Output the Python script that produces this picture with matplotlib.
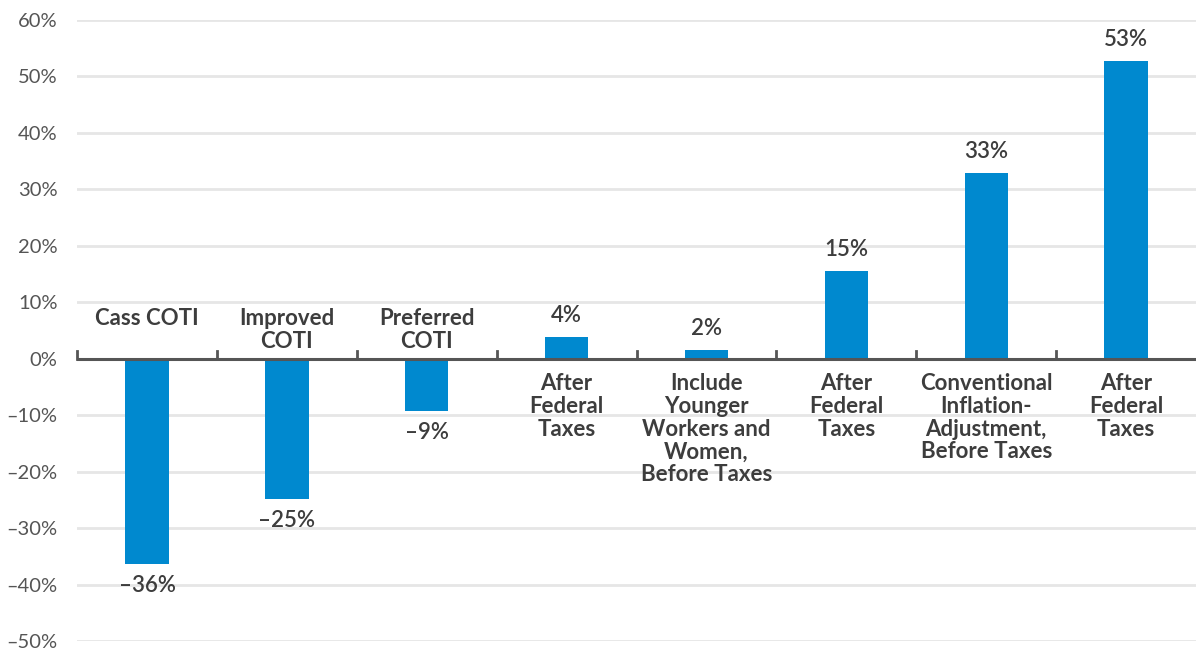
import matplotlib
matplotlib.use("Agg")
import matplotlib.pyplot as plt
import numpy as np

# categories (x axis), bar values in percent
categories = ["Cass COTI", "Improved\nCOTI", "Preferred\nCOTI", "After\nFederal\nTaxes",
              "Include\nYounger\nWorkers and\nWomen,\nBefore Taxes", "After\nFederal\nTaxes",
              "Conventional\nInflation-\nAdjustment,\nBefore Taxes", "After\nFederal\nTaxes"]
values = [-36.3, -24.9, -9.2, 3.8, 1.5, 15.5, 32.8, 52.7]
value_labels = ["\u201336%", "\u201325%", "\u20139%", "4%", "2%", "15%", "33%", "53%"]
yticks = [-50, -40, -30, -20, -10, 0, 10, 20, 30, 40, 50, 60]

bar_color = "#0089CF"
text_dark = "#3d3d3d"
tick_gray = "#555555"

plt.rcParams['font.family'] = ['Lato', 'DejaVu Sans']

fig = plt.figure(figsize=(11.96, 6.51), dpi=100)
ax = fig.add_axes([0.0644, 0.0154, 0.9356, 0.954])

x = np.arange(len(values))
ax.bar(x, values, width=0.31, color=bar_color, zorder=3)

ax.set_xlim(-0.5, len(values) - 0.5)
ax.set_ylim(-50, 60)
ax.set_yticks(yticks)
ax.set_yticklabels([(f"\u2013{-t}%" if t < 0 else f"{t}%") for t in yticks],
                   fontsize=14.5, color=tick_gray)
ax.tick_params(axis='y', length=0, pad=14)
ax.set_xticks([])
ax.grid(axis='y', color="#e6e6e6", linewidth=2, zorder=0)
for s in ax.spines.values():
    s.set_visible(False)

# zero line with upward ticks at category boundaries
ax.axhline(0, color="#555555", linewidth=2.2, zorder=4)
for b in np.arange(len(values)) - 0.5:
    ax.plot([b, b], [0, 1.4], color="#555555", linewidth=2, zorder=4, clip_on=False)

for xi, v, lab, cat in zip(x, values, value_labels, categories):
    if v >= 0:
        ax.annotate(lab, (xi, v), xytext=(0, 8), textcoords='offset points',
                    ha='center', va='bottom', fontsize=16, color=text_dark, fontweight='semibold')
        ax.text(xi, -2.6, cat, ha='center', va='top', fontsize=16, fontweight='bold',
                color=text_dark, linespacing=1.1)
    else:
        ax.annotate(lab, (xi, v), xytext=(0, -8), textcoords='offset points',
                    ha='center', va='top', fontsize=16, color=text_dark, fontweight='semibold')
        ax.text(xi, 9.0, cat, ha='center', va='top', fontsize=16, fontweight='bold',
                color=text_dark, linespacing=1.1)

fig.savefig("out.png", dpi=100)
